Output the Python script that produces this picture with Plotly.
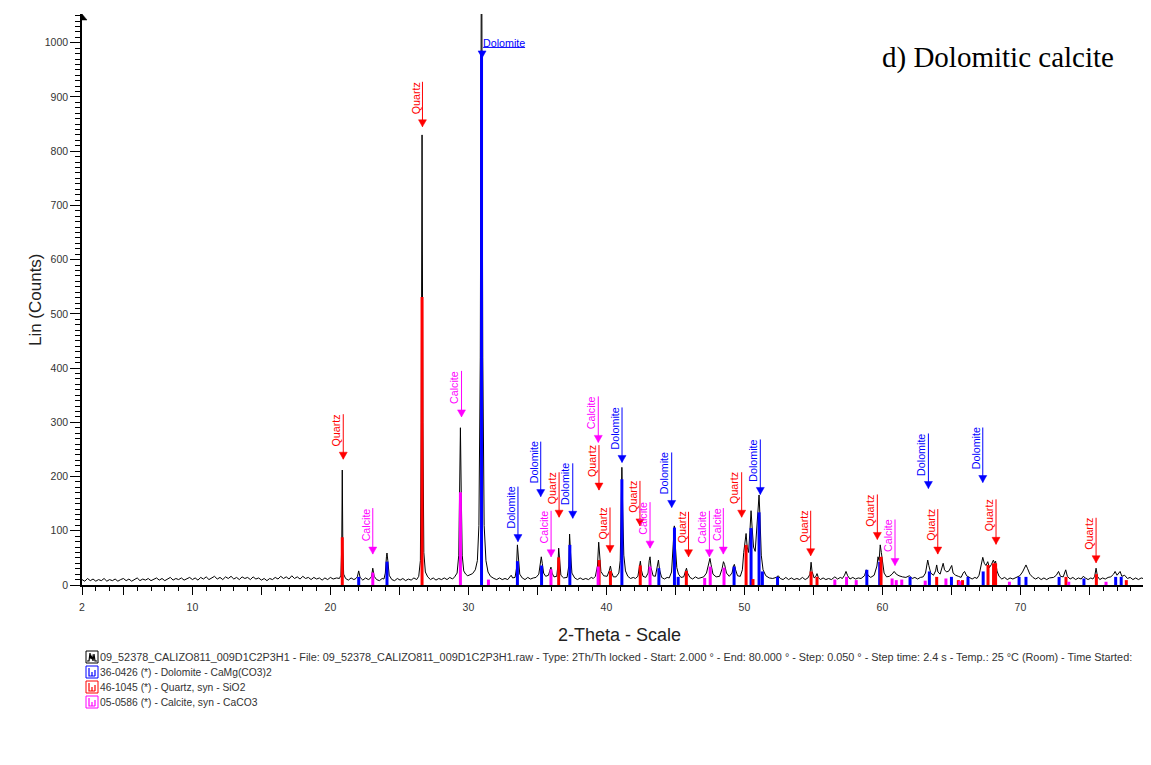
import plotly.graph_objects as go

# ---------------- data ----------------
# measured scan (2-theta in degrees, counts)
scan_2_20 = [
    (2.0, 10), (2.2, 7), (2.4, 12), (2.6, 8), (2.8, 11), (3.0, 7), (3.2, 10), (3.4, 8),
    (3.6, 12), (3.8, 7), (4.0, 10), (4.2, 8), (4.4, 11), (4.6, 7), (4.8, 10), (5.0, 12),
    (5.2, 8), (5.4, 11), (5.6, 7), (5.8, 10), (6.0, 13), (6.2, 8), (6.4, 11), (6.6, 9),
    (6.8, 12), (7.0, 8), (7.2, 11), (7.4, 13), (7.6, 9), (7.8, 12), (8.0, 8), (8.2, 11),
    (8.4, 14), (8.6, 9), (8.8, 12), (9.0, 10), (9.2, 13), (9.4, 9), (9.6, 12), (9.8, 14),
    (10.0, 10), (10.2, 13), (10.4, 9), (10.6, 14), (10.8, 11), (11.0, 15), (11.2, 10),
    (11.4, 13), (11.6, 16), (11.8, 11), (12.0, 14), (12.2, 10), (12.4, 15), (12.6, 12),
    (12.8, 16), (13.0, 11), (13.2, 14), (13.4, 10), (13.6, 15), (13.8, 12), (14.0, 14),
    (14.2, 10), (14.4, 15), (14.6, 11), (14.8, 13), (15.0, 9), (15.2, 12), (15.4, 8),
    (15.6, 12), (15.8, 10), (16.0, 14), (16.2, 11), (16.4, 16), (16.6, 12), (16.8, 15),
    (17.0, 11), (17.2, 17), (17.4, 12), (17.6, 15), (17.8, 11), (18.0, 16), (18.2, 12),
    (18.4, 14), (18.6, 10), (18.8, 14), (19.0, 11), (19.2, 13), (19.4, 9), (19.6, 13),
    (19.8, 10), (20.0, 14), (20.2, 11), (20.45, 13),
]
scan_20_32 = [
    (20.65, 12), (20.76, 18), (20.82, 70), (20.86, 212), (20.9, 70), (20.96, 20), (21.1, 12),
    (21.3, 9), (21.5, 13), (21.7, 10), (21.85, 12), (21.95, 15), (22.05, 26), (22.15, 14),
    (22.35, 9), (22.55, 13), (22.75, 10), (22.88, 12), (22.98, 16), (23.07, 31), (23.17, 16),
    (23.35, 10), (23.55, 8), (23.75, 12), (23.88, 11), (23.98, 22), (24.06, 52), (24.1, 59),
    (24.16, 45), (24.26, 18), (24.45, 10), (24.65, 8), (24.85, 12), (25.05, 9), (25.25, 12),
    (25.45, 8), (25.65, 11), (25.85, 9), (26.05, 13), (26.25, 10), (26.4, 16), (26.52, 45),
    (26.58, 300), (26.64, 830), (26.7, 300), (26.77, 60), (26.88, 24), (27.05, 15),
    (27.25, 10), (27.45, 13), (27.65, 9), (27.85, 12), (28.05, 10), (28.25, 13), (28.45, 10),
    (28.65, 14), (28.85, 11), (29.0, 15), (29.18, 22), (29.3, 55), (29.36, 170), (29.42, 290),
    (29.48, 170), (29.55, 55), (29.66, 26), (29.8, 20), (29.95, 17), (30.1, 19), (30.3, 21),
    (30.5, 28), (30.65, 45), (30.76, 110), (30.86, 420), (30.95, 1300), (31.04, 420),
    (31.14, 110), (31.27, 45), (31.42, 24), (31.6, 16), (31.85, 12),
]
scan_32_52 = [
    (32.05, 10), (32.25, 13), (32.45, 10), (32.65, 12), (32.85, 10), (33.1, 18), (33.2, 13),
    (33.38, 14), (33.48, 30), (33.55, 74), (33.62, 45), (33.72, 20), (33.9, 13), (34.1, 10),
    (34.3, 14), (34.5, 11), (34.7, 13), (34.9, 14), (35.1, 20), (35.22, 40), (35.28, 52),
    (35.35, 40), (35.45, 22), (35.6, 16), (35.8, 18), (35.92, 28), (35.98, 33), (36.06, 22),
    (36.2, 15), (36.4, 16), (36.48, 35), (36.54, 68), (36.6, 45), (36.7, 18), (36.9, 13),
    (37.15, 14), (37.27, 35), (37.33, 94), (37.4, 60), (37.5, 22), (37.7, 13), (37.9, 10),
    (38.1, 13), (38.3, 10), (38.5, 12), (38.7, 10), (38.9, 14), (39.05, 12), (39.2, 16),
    (39.35, 35), (39.44, 79), (39.5, 55), (39.6, 25), (39.8, 17), (40.05, 16), (40.2, 26),
    (40.29, 35), (40.37, 24), (40.5, 15), (40.7, 15), (40.9, 22), (41.0, 45), (41.06, 140),
    (41.12, 217), (41.18, 140), (41.26, 55), (41.38, 26), (41.55, 16), (41.75, 12),
    (41.95, 14), (42.1, 12), (42.28, 16), (42.4, 35), (42.46, 44), (42.53, 28), (42.65, 16),
    (42.85, 14), (43.02, 22), (43.1, 45), (43.16, 52), (43.23, 32), (43.38, 17), (43.55, 16),
    (43.7, 35), (43.77, 46), (43.85, 28), (44.0, 14), (44.2, 11), (44.4, 14), (44.55, 13),
    (44.72, 24), (44.84, 75), (44.92, 109), (45.0, 70), (45.1, 32), (45.22, 20), (45.4, 14),
    (45.6, 15), (45.73, 25), (45.8, 31), (45.88, 22), (46.05, 14), (46.25, 11), (46.45, 15),
    (46.65, 12), (46.85, 14), (47.05, 15), (47.25, 22), (47.42, 40), (47.5, 49), (47.58, 38),
    (47.72, 20), (47.95, 15), (48.2, 16), (48.38, 30), (48.48, 43), (48.56, 38), (48.7, 22),
    (48.9, 16), (49.1, 22), (49.22, 36), (49.27, 38), (49.36, 28), (49.5, 17), (49.7, 16),
    (49.85, 28), (49.95, 60), (50.06, 90), (50.12, 95), (50.2, 70), (50.3, 60), (50.4, 100),
    (50.48, 137), (50.56, 105), (50.66, 70), (50.78, 62), (50.92, 110), (51.0, 150),
    (51.06, 166), (51.12, 130), (51.22, 55), (51.35, 28), (51.55, 17), (51.8, 13),
]
scan_52_80 = [
    (52.05, 12), (52.3, 14), (52.45, 17), (52.6, 12), (52.8, 10), (53.0, 14), (53.2, 10),
    (53.4, 13), (53.6, 10), (53.8, 12), (54.0, 10), (54.2, 14), (54.4, 10), (54.6, 13),
    (54.75, 20), (54.83, 42), (54.9, 25), (55.05, 13), (55.18, 16), (55.26, 21), (55.35, 14),
    (55.5, 10), (55.7, 13), (55.9, 10), (56.1, 12), (56.3, 10), (56.55, 15), (56.75, 11),
    (56.95, 14), (57.1, 12), (57.25, 18), (57.36, 25), (57.48, 17), (57.65, 11), (57.85, 14),
    (58.05, 11), (58.25, 13), (58.45, 12), (58.7, 17), (58.83, 28), (58.95, 18), (59.15, 14),
    (59.4, 18), (59.6, 35), (59.68, 52), (59.76, 45), (59.84, 74), (59.92, 60), (60.0, 40),
    (60.12, 22), (60.3, 15), (60.5, 16), (60.7, 20), (60.85, 25), (61.0, 20), (61.2, 17),
    (61.45, 15), (61.7, 14), (61.95, 17), (62.15, 12), (62.35, 14), (62.55, 11), (62.75, 14),
    (62.95, 15), (63.12, 22), (63.22, 38), (63.28, 46), (63.36, 36), (63.5, 22), (63.7, 18),
    (63.85, 26), (63.93, 37), (64.02, 24), (64.18, 20), (64.32, 32), (64.4, 40), (64.5, 28),
    (64.65, 24), (64.82, 26), (64.95, 32), (65.02, 36), (65.12, 22), (65.3, 18), (65.5, 16),
    (65.7, 14), (65.85, 22), (65.95, 25), (66.1, 17), (66.3, 14), (66.5, 11), (66.7, 14),
    (66.85, 12), (67.0, 18), (67.15, 35), (67.27, 51), (67.38, 40), (67.5, 36), (67.63, 43),
    (67.75, 32), (67.9, 38), (68.04, 46), (68.12, 40), (68.2, 44), (68.3, 26), (68.45, 16),
    (68.65, 11), (68.85, 14), (69.05, 10), (69.25, 13), (69.45, 11), (69.7, 14), (69.95, 17),
    (70.15, 24), (70.3, 32), (70.4, 37), (70.52, 30), (70.68, 20), (70.9, 14), (71.1, 11),
    (71.3, 14), (71.5, 10), (71.7, 13), (71.9, 10), (72.1, 13), (72.4, 14), (72.6, 18),
    (72.76, 25), (72.9, 16), (73.1, 15), (73.28, 28), (73.4, 16), (73.6, 11), (73.8, 14),
    (74.0, 10), (74.2, 13), (74.4, 11), (74.55, 16), (74.7, 13), (74.9, 10), (75.1, 13),
    (75.25, 11), (75.38, 16), (75.48, 31), (75.58, 16), (75.75, 10), (75.95, 13), (76.15, 11),
    (76.35, 14), (76.55, 15), (76.75, 20), (76.86, 25), (77.0, 18), (77.12, 21), (77.22, 25),
    (77.35, 16), (77.55, 18), (77.75, 12), (77.95, 14), (78.15, 10), (78.35, 13), (78.55, 10),
    (78.75, 13), (79.0, 11), (79.25, 14), (79.4, 15), (79.6, 13),
]

# reference stick patterns (2-theta, intensity in counts)
dolomite_pos = [22.05, 24.1, 30.95, 33.55, 35.3, 37.35, 41.12, 43.8, 44.93, 45.2, 49.25,
                50.48, 51.06, 51.3, 52.4, 58.87, 59.8, 62.0, 63.4, 65.0, 66.2, 67.3, 69.9,
                70.4, 72.8, 74.6, 76.9, 77.3, 79.3]
dolomite_int = [15, 43, 985, 44, 36, 74, 195, 31, 106, 15, 34,
                105, 134, 25, 15, 28, 43, 15, 25, 15, 15, 25, 15,
                15, 15, 12, 15, 15, 15]
quartz_pos = [20.86, 26.64, 36.54, 39.47, 40.29, 42.45, 45.79, 50.12, 50.62, 54.83, 55.26,
              59.9, 63.93, 65.5, 65.8, 67.65, 68.05, 68.2, 73.3, 75.5, 77.67]
quartz_int = [88, 531, 51, 46, 26, 36, 26, 74, 11, 25, 15,
              52, 15, 9, 9, 37, 40, 40, 15, 20, 9]
calcite_pos = [23.07, 29.42, 31.45, 35.98, 39.4, 43.16, 47.12, 47.52, 48.52, 56.55, 57.4,
               58.1, 60.7, 61.0, 61.4, 63.1, 64.6, 65.6, 69.2, 73.5, 76.2]
calcite_int = [23, 171, 10, 29, 34, 34, 13, 34, 32, 10, 15,
               9, 12, 9, 10, 8, 12, 7, 6, 6, 6]

# peak labels: (phase, 2-theta of arrow, arrow tip height in counts)
peak_labels = [
    ("Quartz", 20.93, 232), ("Calcite", 23.07, 57), ("Quartz", 26.67, 845),
    ("Calcite", 29.5, 310), ("Dolomite", 30.99, 972), ("Dolomite", 33.59, 80),
    ("Dolomite", 35.24, 163), ("Calcite", 35.99, 52), ("Quartz", 36.57, 125),
    ("Dolomite", 37.56, 123), ("Calcite", 39.41, 263), ("Quartz", 39.46, 175),
    ("Dolomite", 41.13, 226), ("Quartz", 40.26, 60), ("Quartz", 42.43, 109),
    ("Calcite", 43.16, 68), ("Dolomite", 44.73, 143), ("Quartz", 45.95, 52),
    ("Calcite", 47.46, 52), ("Calcite", 48.47, 57), ("Quartz", 49.8, 125),
    ("Dolomite", 51.15, 167), ("Quartz", 54.8, 54), ("Quartz", 59.63, 84),
    ("Calcite", 60.91, 36), ("Dolomite", 63.33, 178), ("Quartz", 64.01, 57),
    ("Dolomite", 67.27, 189), ("Quartz", 68.23, 75), ("Quartz", 75.48, 41),
]

x_tick_vals = [2, 5, 10, 15, 20, 25, 30, 35, 40, 45, 50, 55, 60, 65, 70, 75]
x_tick_text = ["2", "", "10", "", "20", "", "30", "", "40", "", "50", "", "60", "", "70", ""]

legend_rows = [
    ("09_52378_CALIZO811_009D1C2P3H1 - File: 09_52378_CALIZO811_009D1C2P3H1.raw - Type: 2Th/Th locked"
     " - Start: 2.000 ° - End: 80.000 ° - Step: 0.050 ° - Step time: 2.4 s - Temp.: 25 °C (Room) - Time Started:",
     "scan"),
    ("36-0426 (*) - Dolomite - CaMg(CO3)2", "Dolomite"),
    ("46-1045 (*) - Quartz, syn - SiO2", "Quartz"),
    ("05-0586 (*) - Calcite, syn - CaCO3", "Calcite"),
]

# ---------------- styling ----------------
COLORS = {"Dolomite": "#0000ff", "Quartz": "#ff0000", "Calcite": "#ff00ff", "scan": "#000000"}
TEXT_LEN = {"Dolomite": 42, "Quartz": 32, "Calcite": 33}
SANS = "Liberation Sans, Arial, sans-serif"
GAP = 12
PAGE_OFFSET = 8  # default body margin of the html page

scan = scan_2_20 + scan_20_32 + scan_32_52 + scan_52_80
two_theta = [p[0] for p in scan]
counts = [p[1] for p in scan]

fig = go.Figure()
fig.add_trace(go.Scatter(x=two_theta, y=counts, mode="lines",
                         line=dict(color="black", width=1), hoverinfo="skip"))


def sticks(pos, inten):
    xs, ys = [], []
    for p, h in zip(pos, inten):
        xs += [p, p, None]
        ys += [0, h, None]
    return xs, ys


for name, pos, inten in [("Dolomite", dolomite_pos, dolomite_int),
                         ("Quartz", quartz_pos, quartz_int),
                         ("Calcite", calcite_pos, calcite_int)]:
    xs, ys = sticks(pos, inten)
    fig.add_trace(go.Scatter(x=xs, y=ys, mode="lines",
                             line=dict(color=COLORS[name], width=3), hoverinfo="skip"))

shapes = []
annotations = []

for phase, pos, tip in peak_labels:
    c = COLORS[phase]
    shapes.append(dict(type="path", xref="x", xsizemode="pixel", xanchor=pos,
                       yref="y", ysizemode="pixel", yanchor=tip,
                       path="M -4,7 L 4,7 L 0,0 Z", fillcolor=c,
                       line=dict(color=c, width=0.5), layer="above"))
    if phase == "Dolomite" and tip > 900:
        # horizontal label at the clipped main dolomite peak
        annotations.append(dict(x=pos, y=tip, xref="x", yref="y", text=phase,
                                xanchor="left", yanchor="middle", xshift=0, yshift=15,
                                showarrow=False, borderpad=0,
                                font=dict(family=SANS, size=10.7, color=c)))
        shapes.append(dict(type="line", xref="x", xsizemode="pixel", xanchor=pos,
                           x0=1, x1=1 + TEXT_LEN[phase],
                           yref="y", ysizemode="pixel", yanchor=tip, y0=10.5, y1=10.5,
                           line=dict(color=c, width=1), layer="above"))
        continue
    shapes.append(dict(type="line", xref="x", x0=pos, x1=pos,
                       yref="y", ysizemode="pixel", yanchor=tip,
                       y0=0, y1=GAP + TEXT_LEN[phase] + 1,
                       line=dict(color=c, width=1), layer="above"))
    annotations.append(dict(x=pos, y=tip, xref="x", yref="y", text=phase,
                            textangle=-90, xanchor="right", yanchor="bottom",
                            xshift=0, yshift=GAP, showarrow=False, borderpad=0,
                            font=dict(family=SANS, size=10.7, color=c)))

# y-axis arrow head
shapes.append(dict(type="path", xref="paper", xsizemode="pixel", xanchor=0,
                   yref="paper", ysizemode="pixel", yanchor=1,
                   path="M 0,0 L 5,-6 L 0,-6 Z", fillcolor="black",
                   line=dict(color="black", width=0.5)))

# legend below the chart
row_py = [657, 672, 687, 702]
row_size = [10.85, 10.3, 10.3, 10.3]
for (text, key), py, fs in zip(legend_rows, row_py, row_size):
    c = COLORS[key]
    yc = -(py - 585)
    shapes.append(dict(type="rect", xref="paper", xsizemode="pixel", xanchor=0, x0=4, x1=16,
                       yref="paper", ysizemode="pixel", yanchor=0, y0=yc - 6, y1=yc + 6,
                       line=dict(color=c, width=1), fillcolor="white"))
    if key == "scan":
        glyph = (f"M 5,{yc-4} L 7,{yc-4} L 8,{yc+4} L 9,{yc-2} L 10,{yc+1} "
                 f"L 11,{yc-4} L 12,{yc+3} L 13,{yc-4} L 15,{yc-4}")
    else:
        glyph = (f"M 7,{yc+4} L 7,{yc-4} L 13,{yc-4} M 10,{yc-4} L 10,{yc} "
                 f"M 13,{yc-4} L 13,{yc+2}")
    shapes.append(dict(type="path", xref="paper", xsizemode="pixel", xanchor=0,
                       yref="paper", ysizemode="pixel", yanchor=0, path=glyph,
                       line=dict(color=c, width=1.2)))
    annotations.append(dict(x=0, y=0, xref="paper", yref="paper", xshift=17, yshift=yc,
                            xanchor="left", yanchor="middle", text=text, showarrow=False,
                            borderpad=0, font=dict(family=SANS, size=fs, color="#333333")))

# axis titles and panel title
annotations.append(dict(x=0.503, y=0, xref="paper", yref="paper", yshift=-50,
                        text="2-Theta - Scale", showarrow=False, xanchor="center",
                        yanchor="middle", font=dict(family=SANS, size=18, color="#222222")))
annotations.append(dict(x=0, y=0.499, xref="paper", yref="paper", xshift=-47,
                        text="Lin (Counts)", textangle=-90, showarrow=False,
                        xanchor="center", yanchor="middle",
                        font=dict(family=SANS, size=17, color="#222222")))
annotations.append(dict(x=0.7465, y=1, xref="paper", yref="paper", yshift=-43,
                        text="d) Dolomitic calcite", showarrow=False, xanchor="left",
                        yanchor="middle",
                        font=dict(family="Liberation Serif, Times New Roman, serif",
                                  size=29, color="black")))

fig.update_layout(
    width=1151 - PAGE_OFFSET, height=765 - PAGE_OFFSET,
    margin=dict(l=82 - PAGE_OFFSET, r=0, t=14 - PAGE_OFFSET, b=180),
    paper_bgcolor="white", plot_bgcolor="white",
    showlegend=False,
    shapes=shapes, annotations=annotations,
    xaxis=dict(range=[2, 79.46], showline=True, linecolor="black", linewidth=1.5,
               ticks="outside", tickmode="array", tickvals=x_tick_vals, ticktext=x_tick_text,
               ticklen=8, tickwidth=1, tickcolor="black",
               minor=dict(tickmode="linear", tick0=0, dtick=1, ticklen=4,
                          tickcolor="black", tickwidth=1, ticks="outside", showgrid=False),
               showgrid=False, zeroline=False, ticklabelstandoff=4,
               tickfont=dict(family=SANS, size=10.5, color="#333333")),
    yaxis=dict(range=[0, 1053], showline=True, linecolor="black", linewidth=1.5,
               ticks="outside", tickmode="linear", tick0=0, dtick=100,
               ticklen=10, tickwidth=1, tickcolor="black",
               minor=dict(tickmode="linear", tick0=0, dtick=10, ticklen=5,
                          tickcolor="black", tickwidth=1, ticks="outside", showgrid=False),
               showgrid=False, zeroline=False,
               tickfont=dict(family=SANS, size=10.5, color="#333333")),
)

fig.write_html("out.html")
